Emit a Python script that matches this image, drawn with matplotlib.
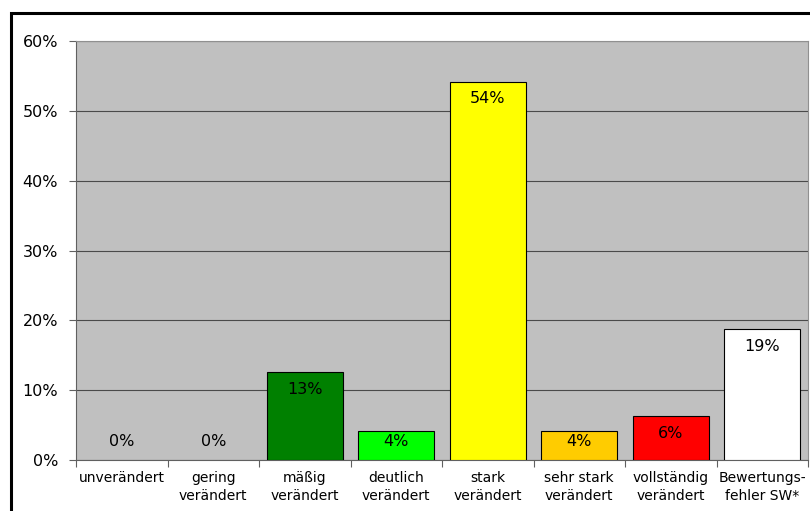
import numpy as np
import matplotlib
matplotlib.use("Agg")
import matplotlib.pyplot as plt
from matplotlib.patches import Rectangle

categories = ["unverändert", "gering\nverändert", "mäßig\nverändert", "deutlich\nverändert",
              "stark\nverändert", "sehr stark\nverändert", "vollständig\nverändert",
              "Bewertungs-\nfehler SW*"]
values = [0, 0, 12.6, 4.2, 54.2, 4.2, 6.3, 18.8]
colors = ["#c0c0c0", "#c0c0c0", "#008000", "#00ff00", "#ffff00", "#ffcc00", "#ff0000", "#ffffff"]
yticks = [0, 10, 20, 30, 40, 50, 60]

plt.rcParams["font.family"] = ["DejaVu Sans"]

fig = plt.figure(figsize=(8.1, 5.11), dpi=100)
ax = fig.add_axes([76 / 810, 1 - 460 / 511, (808 - 76) / 810, (460 - 41) / 511])
ax.set_facecolor("#c0c0c0")

x = np.arange(len(categories))
for i, (v, c) in enumerate(zip(values, colors)):
    if v > 0:
        ax.bar(i, v, width=0.83, color=c, edgecolor="black", linewidth=0.8, zorder=3)
    # value label sits inside the top of the bar, but never below the baseline zone
    ly = max(v - 2.5, 2.6)
    ax.text(i, ly, f"{v:.0f}%", ha="center", va="center", fontsize=11.5, color="black", zorder=4)

ax.set_xlim(-0.5, len(categories) - 0.5)
ax.set_ylim(0, 60)
ax.set_yticks(yticks)
ax.set_yticklabels([f"{t}%" for t in yticks], fontsize=11.5)
ax.yaxis.grid(True, color="#4a4a4a", linewidth=0.8, zorder=1)
ax.set_axisbelow(True)

ax.set_xticks(x)
ax.set_xticklabels(categories, fontsize=10, linespacing=1.35)
ax.set_xticks(np.arange(-0.5, len(categories), 1), minor=True)
ax.tick_params(axis="x", which="major", length=0, pad=8)
ax.tick_params(axis="x", which="minor", length=5, color="#606060", width=0.8)
ax.tick_params(axis="y", length=5, color="#606060", width=0.8, pad=8)

for side in ["left", "bottom"]:
    ax.spines[side].set_color("#606060")
    ax.spines[side].set_linewidth(0.8)
for side in ["top", "right"]:
    ax.spines[side].set_color("#909090")
    ax.spines[side].set_linewidth(0.8)

# outer chart frame, cut off at the right and bottom edges
top = 1 - 13 / 511
frame = Rectangle((11 / 810, -0.2), 1.5, top + 0.2, transform=fig.transFigure,
                  fill=False, edgecolor="black", linewidth=2.2)
fig.patches.append(frame)

fig.savefig("out.png", dpi=100)
